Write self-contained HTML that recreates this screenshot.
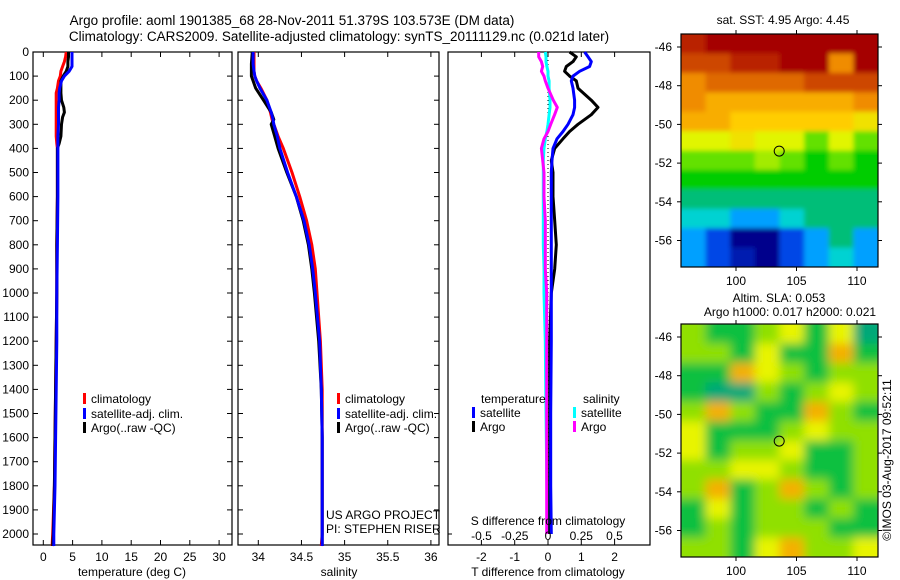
<!DOCTYPE html>
<html><head><meta charset="utf-8"><style>
body{margin:0;background:#fff;}
svg{display:block;font-family:"Liberation Sans",sans-serif;font-size:12px;}
</style></head><body>
<svg id="fig" width="900" height="580" viewBox="0 0 900 580">
<defs>
<filter id="blurS" x="-5%" y="-5%" width="110%" height="110%"><feGaussianBlur stdDeviation="2.5"/></filter>
<filter id="blurL" x="-5%" y="-5%" width="110%" height="110%"><feGaussianBlur stdDeviation="5"/></filter>
<clipPath id="clip1"><rect x="681" y="34" width="197" height="233"/></clipPath>
<clipPath id="clip2"><rect x="681" y="324" width="197" height="233"/></clipPath>
</defs>
<rect width="900" height="580" fill="#fff"/>
<text x="292" y="25" text-anchor="middle" font-size="13.5">Argo profile: aoml 1901385_68 28-Nov-2011 51.379S 103.573E (DM data)</text>
<text x="339" y="41" text-anchor="middle" font-size="13.5">Climatology: CARS2009. Satellite-adjusted climatology: synTS_20111129.nc (0.021d later)</text>
<g id="g"></g>
</svg>
<script>
// ---------- data ----------
const depthsT=[0,20,40,60,80,100,120,150,170,200,230,250,270,300,350,380,400,500,600,800,1000,1200,1400,1600,1800,2000,2050];
const argoT=[4.3,4.3,4.2,4.2,3.9,3.4,3.0,3.0,3.0,3.1,3.5,3.6,3.3,3.1,3.0,2.7,2.4,2.4,2.4,2.3,2.3,2.2,2.1,2.0,1.9,1.7,1.6];
const climT=[3.9,3.8,3.6,3.3,3.0,2.9,2.6,2.4,2.2,2.2,2.2,2.2,2.2,2.2,2.2,2.3,2.4,2.4,2.4,2.3,2.3,2.2,2.1,2.0,1.9,1.6,1.5];
const satT=[4.9,4.9,4.9,4.9,4.4,3.6,3.1,2.8,2.7,2.7,2.6,2.6,2.6,2.6,2.5,2.5,2.5,2.5,2.5,2.4,2.3,2.3,2.2,2.1,2.0,1.8,1.8];
const depthsS=[0,50,80,100,120,150,200,250,280,300,350,400,500,600,700,800,900,1000,1200,1400,1600,1800,2000,2050];
const argoS=[33.93,33.92,33.92,33.92,33.94,33.97,34.06,34.15,34.18,34.15,34.19,34.23,34.33,34.44,34.52,34.58,34.62,34.65,34.70,34.73,34.74,34.74,34.74,34.74];
const climS=[33.95,33.95,33.95,33.96,33.98,34.03,34.10,34.14,34.16,34.18,34.23,34.29,34.39,34.48,34.56,34.62,34.66,34.68,34.72,34.74,34.74,34.74,34.74,34.73];
const satS=[33.94,33.94,33.95,33.96,33.98,34.02,34.10,34.15,34.17,34.18,34.22,34.25,34.34,34.44,34.53,34.59,34.63,34.66,34.71,34.73,34.74,34.74,34.74,34.74];
const depthsD=[0,20,40,60,80,100,120,150,200,230,260,300,330,360,400,450,500,600,700,800,900,1000,1200,1500,1800,2000];
const satTd=[1.1,1.2,1.3,1.25,0.95,0.75,0.7,0.75,0.8,0.8,0.75,0.6,0.45,0.27,0.15,0.12,0.1,0.1,0.1,0.1,0.1,0.1,0.1,0.08,0.08,0.1];
const argoTd=[0.65,0.85,0.75,0.55,0.5,0.65,0.85,0.9,1.3,1.5,1.3,0.9,0.65,0.45,0.2,0.1,0.15,0.15,0.2,0.25,0.2,0.1,0.05,0.05,0.05,0.05];
const satSd=[-0.02,-0.015,-0.015,-0.008,0,0,0.008,0.008,0.015,0.015,0.008,0,-0.008,-0.02,-0.03,-0.035,-0.035,-0.035,-0.035,-0.035,-0.03,-0.03,-0.02,-0.015,-0.008,0];
const argoSd=[-0.07,-0.07,-0.05,-0.04,-0.05,-0.03,-0.02,0.0,0.04,0.07,0.05,0.02,0.0,-0.03,-0.05,-0.04,-0.03,-0.03,-0.02,-0.02,-0.02,-0.01,-0.01,-0.01,-0.01,-0.01];
const depthTicks=[0,100,200,300,400,500,600,700,800,900,1000,1100,1200,1300,1400,1500,1600,1700,1800,1900,2000];
const tTicks=[0,5,10,15,20,25,30];
const sTicks=[34,34.5,35,35.5,36];
const tdTicks=[-2,-1,0,1,2];
const sdTicks=[-0.5,-0.25,0,0.25,0.5];
const sdTickLabels=["-0.5","-0.25","0","0.25","0.5"];
const latTicks=[-46,-48,-50,-52,-54,-56];
const lonTicks=[100,105,110];
const argoLon=103.57, argoLat=-51.38;
const sstGrid=[
[8.5,9,9,9,9,9,9,9],
[8,8,8.5,8.5,9,9,7,9],
[7,7.5,7.5,7.5,7.5,8,8,8],
[7,6.5,6.5,6.5,6.5,6.5,6.5,7],
[6.5,6.5,6,6,6,6,6,5.5],
[5,5,5.5,5,5,4,5,4],
[4,4,4,4.5,4,3.5,4,3.5],
[3.5,3.5,3.5,3.5,3.5,3.5,3.5,3.5],
[3,3,3,3,3,3,3,3],
[2.5,2.5,2,2,2.5,3,3,3],
[2,1.5,1,1,1.5,2,3,2],
[2,1.5,1.2,1,1.5,2,2.5,2]];
const slaGrid=[
[1,0,0,1,2,0,2,-1],
[1,1,0,2,0,0,3,0],
[0,0,3,2,1,0,1,1],
[0,-1,-1,1,0,1,2,1],
[1,3,1,0,0,3,1,0],
[2,0,0,0,1,2,1,1],
[2,0,1,1,2,0,0,1],
[1,1,2,2,1,0,0,1],
[1,3,0,1,3,1,0,1],
[0,2,0,1,1,0,1,0],
[0,1,0,1,1,1,0,0],
[1,1,0,2,3,1,1,2]];
// ---------- helpers ----------
const NS="http://www.w3.org/2000/svg";
const G=document.getElementById('g');
function el(tag,attrs,parent){const e=document.createElementNS(NS,tag);for(const k in attrs)e.setAttribute(k,attrs[k]);(parent||G).appendChild(e);return e;}
function txt(x,y,s,anchor,parent,size){const t=el('text',{x:x,y:y,'text-anchor':anchor||'middle','font-size':size||12},parent);t.textContent=s;return t;}
const yD=d=>52+d*0.241;
const PB=545;
function box(x0,x1,name){const r=el('rect',{x:x0,y:52,width:x1-x0,height:PB-52,fill:'none',stroke:'#000','stroke-width':1.2});}
function line(xs,ds,fx,color,name,w){
  const pts=xs.map((v,i)=>fx(v).toFixed(1)+','+yD(ds[i]).toFixed(1)).join(' ');
  const p=el('polyline',{points:pts,fill:'none',stroke:color,'stroke-width':w||3,'stroke-linejoin':'round'});
  
  
  return p;
}
function xticks(ticks,fx,labels,ly,top,bottom){
  ticks.forEach((t,i)=>{const x=fx(t);
    if(top) el('line',{x1:x,y1:52,x2:x,y2:57,stroke:'#000'});
    if(bottom) el('line',{x1:x,y1:PB,x2:x,y2:PB-5,stroke:'#000'});
    if(ly){const tt=txt(x,ly,labels?labels[i]:String(t));}
  });
}
function legendEntry(x,y,color,label){
  el('rect',{x:x,y:y-10,width:3,height:11,fill:color});
  const t=txt(x+8,y,label,'start');
  
  
}
// ---------- panel 1 temperature ----------
const fT=v=>43.3+v*5.86;
box(33,232,'temperature-panel');
depthTicks.forEach(d=>{const y=yD(d);el('line',{x1:33,y1:y,x2:38,y2:y,stroke:'#000'});el('line',{x1:232,y1:y,x2:227,y2:y,stroke:'#000'});
  const t=txt(29,y+4,String(d),'end');});
xticks(tTicks,fT,null,561,true,true);
line(climT,depthsT,fT,'#f00','climatology-temperature-line');
line(argoT,depthsT,fT,'#000','argo-temperature-line');
line(satT,depthsT,fT,'#00f','satellite-temperature-line');
const t1=txt(132,576,'temperature (deg C)');
legendEntry(83,403,'#f00','climatology');legendEntry(83,418,'#00f','satellite-adj. clim.');legendEntry(83,432,'#000','Argo(..raw -QC)');
// ---------- panel 2 salinity ----------
const fS=v=>258.3+(v-34)*86.3;
box(238,439,'salinity-panel');
depthTicks.forEach(d=>{const y=yD(d);el('line',{x1:238,y1:y,x2:243,y2:y,stroke:'#000'});el('line',{x1:439,y1:y,x2:434,y2:y,stroke:'#000'});});
xticks(sTicks,fS,null,561,true,true);
line(climS,depthsS,fS,'#f00','climatology-salinity-line');
line(argoS,depthsS,fS,'#000','argo-salinity-line');
line(satS,depthsS,fS,'#00f','satellite-salinity-line');
const t2=txt(339,576,'salinity');
legendEntry(337,403,'#f00','climatology');legendEntry(337,418,'#00f','satellite-adj. clim.');legendEntry(337,432,'#000','Argo(..raw -QC)');
const c1=txt(326,519,'US ARGO PROJECT','start');
const c2=txt(326,533,'PI: STEPHEN RISER','start');
// ---------- panel 3 differences ----------
const fTd=v=>548+v*33.3;
const fSd=v=>548+v*133;
box(448,650,'difference-panel');
el('line',{x1:448,y1:yD(2000),x2:452,y2:yD(2000),stroke:'#000'});
xticks(tdTicks,fTd,null,561,true,true);
const zl=line([0,0],[0,2000],fTd,'#000','zero-line',1);
zl.setAttribute('stroke-dasharray','1,3');
line(satSd,depthsD,fSd,'#0ff','satellite-salinity-diff-line');
line(argoSd,depthsD,fSd,'#f0f','argo-salinity-diff-line');
line(argoTd,depthsD,fTd,'#000','argo-temperature-diff-line');
line(satTd,depthsD,fTd,'#00f','satellite-temperature-diff-line');
sdTicks.forEach((t,i)=>{const tt=txt(fSd(t),540,sdTickLabels[i]);});
const t3=txt(548,525,'S difference from climatology');
const t4=txt(548,576,'T difference from climatology');
const lt1=txt(481,403,'temperature','start');
const lt2=txt(583,403,'salinity','start');
legendEntry(472,417,'#00f','satellite');legendEntry(472,431,'#000','Argo');
legendEntry(573,417,'#0ff','satellite');legendEntry(573,431,'#f0f','Argo');
// ---------- maps ----------
function jet(v){const stops=[[1,[0,0,140]],[1.5,[0,70,230]],[2,[0,160,255]],[2.5,[0,210,210]],[3,[0,190,120]],[3.5,[0,205,0]],[4,[100,225,0]],[5,[225,245,0]],[6,[255,205,0]],[7,[240,140,0]],[8,[205,70,0]],[9,[165,0,0]]];
  if(v<=stops[0][0])return 'rgb('+stops[0][1]+')';
  for(let i=1;i<stops.length;i++){if(v<=stops[i][0]){const a=stops[i-1],b=stops[i],f=(v-a[0])/(b[0]-a[0]);return 'rgb('+a[1].map((c,j)=>Math.round(c+(b[1][j]-c)*f)).join(',')+')';}}
  return 'rgb('+stops[stops.length-1][1]+')';}
function slaColor(v){return {'-1':'#00a878','0':'#10c040','1':'#90e000','2':'#e8f400','3':'#f4b000'}[String(v)];}
function map(y0,y1,latRef,grid,colorFn,name,clip,blur){
  const x0=681,x1=878;
  const fx=lon=>736+(lon-100)*12.1;
  const fy=lat=>latRef+(-46-lat)*19.35;
  const outer=el('g',{'clip-path':'url(#'+clip+')'});
  
  
  const g=el('g',{filter:'url(#'+blur+')'},outer);
  const rows=grid.length,cols=grid[0].length,cw=(x1-x0)/cols,ch=(y1-y0)/rows;
  grid.forEach((row,r)=>row.forEach((v,c)=>{
    const ex=(c===0?-8:0), ey=(r===0?-8:0), ew=(c===cols-1?8:0)-ex, eh=(r===rows-1?8:0)-ey;
    const rc=el('rect',{x:(x0+c*cw+ex).toFixed(1),y:(y0+r*ch+ey).toFixed(1),width:(cw+0.6+ew).toFixed(1),height:(ch+0.6+eh).toFixed(1),fill:colorFn(v)},g);
    
    
  }));
  el('rect',{x:x0,y:y0,width:x1-x0,height:y1-y0,fill:'none',stroke:'#000','stroke-width':1.2});
  latTicks.forEach(l=>{const y=fy(l);el('line',{x1:x0,y1:y,x2:x0-4,y2:y,stroke:'#000'});el('line',{x1:x1,y1:y,x2:x1+4,y2:y,stroke:'#000'});
    const t=txt(x0-9,y+4,String(l),'end');});
  lonTicks.forEach(l=>{const x=fx(l);el('line',{x1:x,y1:y0,x2:x,y2:y0-4,stroke:'#000'});el('line',{x1:x,y1:y1,x2:x,y2:y1+4,stroke:'#000'});
    const t=txt(x,y1+18,String(l));});
  const m=el('circle',{cx:fx(argoLon),cy:fy(argoLat),r:5,fill:'none',stroke:'#000','stroke-width':1});
  
  
}
map(34,267,47,sstGrid,jet,'sst-map','clip1','blurS');
map(324,557,337,slaGrid,slaColor,'sla-map','clip2','blurL');
const m1=txt(783,24,'sat. SST: 4.95 Argo: 4.45');
const m2=txt(779,302,'Altim. SLA: 0.053');
const m3=txt(790,316,'Argo h1000: 0.017 h2000: 0.021');
const st=txt(0,0,'©IMOS 03-Aug-2017 09:52:11','middle');
st.setAttribute('transform','translate(891,460) rotate(-90)');


</script>
</body></html>
